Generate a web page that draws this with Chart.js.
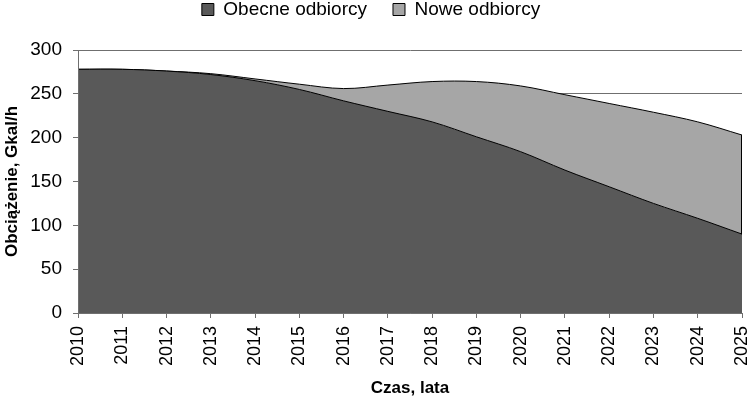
<!DOCTYPE html>
<html>
<head>
<meta charset="utf-8">
<script src="https://cdn.jsdelivr.net/npm/chart.js@4/dist/chart.umd.min.js"></script>
<style>
  html, body { margin: 0; padding: 0; background: #fff; }
  #wrap { width: 750px; height: 399px; }
</style>
</head>
<body>
<div id="wrap"><canvas id="wykres" width="750" height="399"></canvas></div>
<script>
// dane
const lata = ['2010', '2011', '2012', '2013', '2014', '2015', '2016', '2017',
              '2018', '2019', '2020', '2021', '2022', '2023', '2024', '2025'];
const obecneOdbiorcy = [278, 278, 276, 272, 265, 255, 242, 230, 218, 201, 184, 163, 144, 125, 108, 90];
const noweOdbiorcy   = [0, 0, 0, 1, 2, 6, 14, 30, 46, 63, 75, 86, 95, 104, 110, 113];
const osY = { min: 0, max: 300, krok: 50 };

const FONT = "'Liberation Sans', Arial, sans-serif";
const GRID = '#6f6f6f';

// legenda: wiecej miejsca pod spodem
const odstepLegendy = {
    id: 'odstepLegendy',
    afterInit(chart) {
        const fit = chart.legend.fit;
        chart.legend.fit = function () {
            fit.call(this);
            this.height += 21;
        };
    }
};

// obrys prawej krawedzi szarego obszaru (jak w Excelu)
const krawedz = {
    id: 'krawedz',
    afterDatasetsDraw(chart) {
        const { ctx, scales: { x, y } } = chart;
        const i = lata.length - 1;
        const px = Math.round(x.getPixelForValue(i)) - 0.5;
        ctx.save();
        ctx.strokeStyle = '#000';
        ctx.lineWidth = 1;
        ctx.beginPath();
        ctx.moveTo(px, y.getPixelForValue(obecneOdbiorcy[i]));
        ctx.lineTo(px, y.getPixelForValue(obecneOdbiorcy[i] + noweOdbiorcy[i]));
        ctx.stroke();
        ctx.restore();
    }
};

new Chart(document.getElementById('wykres'), {
    type: 'line',
    data: {
        labels: lata,
        datasets: [{
            label: 'Obecne odbiorcy',
            data: obecneOdbiorcy,
            backgroundColor: '#595959',
            borderColor: '#000',
            borderWidth: 1,
            fill: 'origin',
            pointRadius: 0,
            tension: 0.35
        }, {
            label: 'Nowe odbiorcy',
            data: noweOdbiorcy,
            backgroundColor: '#a6a6a6',
            borderColor: '#000',
            borderWidth: 1,
            fill: '-1',
            pointRadius: 0,
            tension: 0.35
        }]
    },
    options: {
        responsive: false,
        animation: false,
        layout: {
            padding: { top: -26, right: 8, bottom: 0, left: 0 }
        },
        plugins: {
            tooltip: { enabled: false },
            legend: {
                position: 'top',
                labels: {
                    color: '#000',
                    font: { family: FONT, size: 19 },
                    boxWidth: 12,
                    boxHeight: 12,
                    padding: 26
                }
            }
        },
        scales: {
            x: {
                offset: false,
                grid: {
                    display: true,
                    drawOnChartArea: false,
                    drawTicks: true,
                    tickLength: 5,
                    color: GRID
                },
                border: { display: true, color: GRID },
                ticks: {
                    color: '#000',
                    font: { family: FONT, size: 18 },
                    autoSkip: false,
                    minRotation: 90,
                    maxRotation: 90,
                    padding: 8
                },
                title: {
                    display: true,
                    text: 'Czas, lata',
                    color: '#000',
                    font: { family: FONT, size: 17, weight: 'bold' },
                    padding: { top: 2, bottom: 0 }
                },
                afterFit(scale) {
                    scale.height = 86;
                    scale.paddingLeft = 0;
                    scale.paddingRight = 0;
                }
            },
            y: {
                stacked: true,
                min: osY.min,
                max: osY.max,
                grid: {
                    color: GRID,
                    tickLength: 5
                },
                border: { display: true, color: GRID, z: 1 },
                ticks: {
                    stepSize: osY.krok,
                    color: '#000',
                    font: { family: FONT, size: 19 },
                    padding: 11
                },
                title: {
                    display: true,
                    text: 'Obciążenie, Gkal/h',
                    color: '#000',
                    font: { family: FONT, size: 17, weight: 'bold' },
                    padding: { top: 2, bottom: 0 }
                },
                afterFit(scale) { scale.width = 78; }
            }
        }
    },
    plugins: [odstepLegendy, krawedz]
});
</script>
</body>
</html>
